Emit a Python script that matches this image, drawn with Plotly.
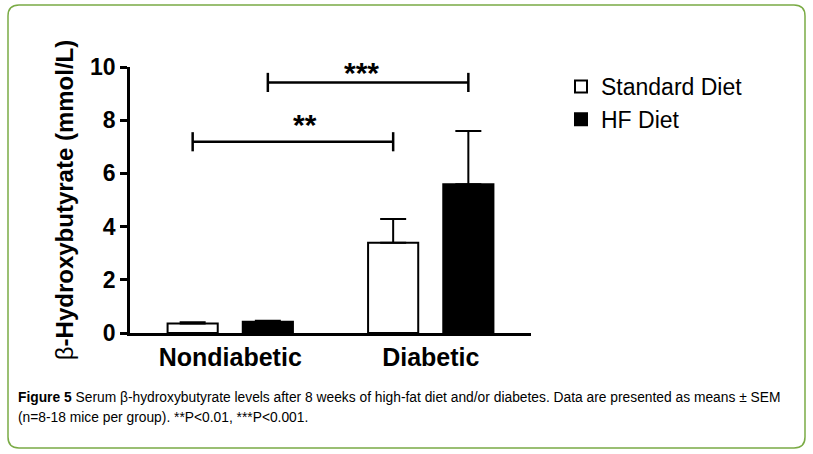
import plotly.graph_objects as go

# ---- data ----
groups = ["Nondiabetic", "Diabetic"]
standard_mean = [0.36, 3.39]
standard_sem = [0.04, 0.90]
hf_mean = [0.42, 5.59]
hf_sem = [0.04, 2.00]
series_names = ["Standard Diet", "HF Diet"]
y_ticks = [0, 2, 4, 6, 8, 10]
# significance brackets: (from bar, to bar, height, label)
sig_from = [(0, "std"), (0, "hf")]
sig_to = [(1, "std"), (1, "hf")]
sig_height = [7.19, 9.42]
sig_label = ["**", "***"]

# ---- layout geometry (pixels) ----
W, H = 813, 454
L, R, T, B = 130, 282, 67, 121
PW, PH = W - L - R, H - T - B
BAR_OFF = {"std": -0.1875, "hf": 0.1875}
FONT = "Arial, Liberation Sans, sans-serif"


def px2x(p):
    return (p - L) / PW


def py2y(p):
    return (H - B - p) / PH


fig = go.Figure()
fig.add_trace(go.Bar(
    x=groups, y=standard_mean, name=series_names[0],
    marker=dict(color="white", line=dict(color="black", width=2)),
    error_y=dict(type="data", array=standard_sem, arrayminus=[0] * len(groups),
                 symmetric=False, color="black", thickness=2, width=13),
))
fig.add_trace(go.Bar(
    x=groups, y=hf_mean, name=series_names[1],
    marker=dict(color="black", line=dict(color="black", width=2)),
    error_y=dict(type="data", array=hf_sem, arrayminus=[0] * len(groups),
                 symmetric=False, color="black", thickness=2, width=13),
))

shapes = []
annotations = []
tick_half = 0.36
star_xshift = [12, -7]
star_yshift = [-1, -9]
for (g0, s0), (g1, s1), h, lab, xs, ys in zip(sig_from, sig_to, sig_height, sig_label, star_xshift, star_yshift):
    xa = g0 + BAR_OFF[s0]
    xb = g1 + BAR_OFF[s1]
    line = dict(color="black", width=2.5)
    shapes.append(dict(type="line", xref="x", yref="y", x0=xa, x1=xb, y0=h, y1=h, line=line))
    shapes.append(dict(type="line", xref="x", yref="y", x0=xa, x1=xa, y0=h - tick_half, y1=h + tick_half, line=line))
    shapes.append(dict(type="line", xref="x", yref="y", x0=xb, x1=xb, y0=h - tick_half, y1=h + tick_half, line=line))
    annotations.append(dict(xref="x", yref="y", x=(xa + xb) / 2, y=h, text="<b>%s</b>" % lab,
                            showarrow=False, xanchor="center", yanchor="bottom", xshift=xs, yshift=ys,
                            font=dict(family=FONT, size=30, color="black")))

# rounded frame
x0p, x1p, y0p, y1p, r = 8, 805, 5, 448, 11
pts = [
    ("M", [(x0p + r, y0p)]),
    ("L", [(x1p - r, y0p)]),
    ("Q", [(x1p, y0p), (x1p, y0p + r)]),
    ("L", [(x1p, y1p - r)]),
    ("Q", [(x1p, y1p), (x1p - r, y1p)]),
    ("L", [(x0p + r, y1p)]),
    ("Q", [(x0p, y1p), (x0p, y1p - r)]),
    ("L", [(x0p, y0p + r)]),
    ("Q", [(x0p, y0p), (x0p + r, y0p)]),
]
path = " ".join(cmd + " " + " ".join("%.5f,%.5f" % (px2x(a), py2y(b)) for a, b in pp) for cmd, pp in pts) + " Z"
shapes.append(dict(type="path", xref="paper", yref="paper", path=path,
                   line=dict(color="#7aab45", width=1.5), layer="below"))

CAP_SIZE = 13.8
annotations.append(dict(xref="paper", yref="paper", x=px2x(16), y=py2y(397),
                        text="<b>Figure 5</b> Serum β-hydroxybutyrate levels after 8 weeks of high-fat diet and/or diabetes. Data are presented as means ± SEM",
                        showarrow=False, xanchor="left", yanchor="middle",
                        font=dict(family=FONT, size=CAP_SIZE, color="black")))
annotations.append(dict(xref="paper", yref="paper", x=px2x(16), y=py2y(417),
                        text="(n=8-18 mice per group). **P<0.01, ***P<0.001.",
                        showarrow=False, xanchor="left", yanchor="middle",
                        font=dict(family=FONT, size=CAP_SIZE, color="black")))

fig.update_layout(
    width=W, height=H,
    margin=dict(l=L, r=R, t=T, b=B),
    paper_bgcolor="white", plot_bgcolor="white",
    barmode="group", bargap=0.25, bargroupgap=0.333,
    showlegend=True,
    legend=dict(x=px2x(561), y=py2y(65), xanchor="left", yanchor="top",
                font=dict(family=FONT, size=23, color="black"),
                bgcolor="rgba(0,0,0,0)", tracegroupgap=0, itemwidth=30),
    shapes=shapes, annotations=annotations,
    font=dict(family=FONT, color="black"),
)
fig.update_xaxes(
    range=[-0.5, 1.5], showline=True, linecolor="black", linewidth=2.5,
    ticks="", showgrid=False, zeroline=False,
    tickfont=dict(family=FONT, size=25, color="black"),
    tickvals=groups, ticktext=["<b>%s</b>" % g for g in groups],
)
fig.update_yaxes(
    range=[0, 10], tickvals=y_ticks, ticktext=["<b>%d</b>" % v for v in y_ticks],
    showline=True, linecolor="black", linewidth=2.5,
    ticks="outside", ticklen=7, tickwidth=2.5, tickcolor="black",
    showgrid=False, zeroline=False,
    tickfont=dict(family=FONT, size=23, color="black"),
    title=dict(text="<span style='font-weight:normal'>β</span>-Hydroxybutyrate (mmol/L)", standoff=10,
               font=dict(family=FONT, size=24, color="black", weight="bold")),
)

fig.write_html("out.html", config={"displayModeBar": False},
               post_script="document.body.style.margin='0';")
